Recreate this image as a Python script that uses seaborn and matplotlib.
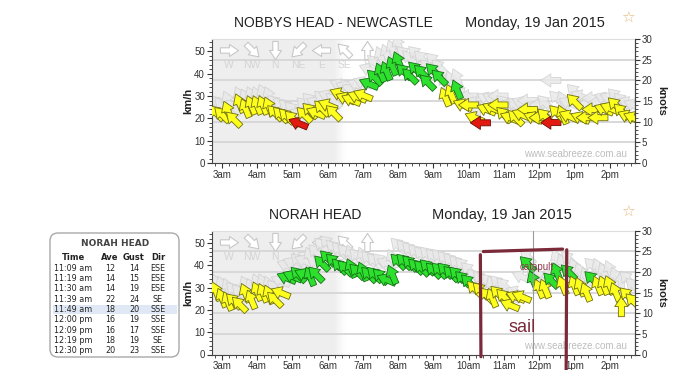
import numpy as np
import pandas as pd
import matplotlib
matplotlib.use("Agg")
import matplotlib.pyplot as plt
import seaborn as sns
from matplotlib.path import Path
from matplotlib.markers import MarkerStyle
from matplotlib.transforms import Affine2D
from matplotlib.patches import FancyBboxPatch, Rectangle
from matplotlib.ticker import MultipleLocator

sns.set_style("ticks")
plt.rcParams["font.family"] = ["Liberation Sans", "DejaVu Sans"]

# ---------------- data ----------------
obs_times = ["02:50", "03:00", "03:10", "03:20", "03:30", "03:40", "03:50", "04:00", "04:10", "04:20",
             "04:30", "04:40", "04:50", "05:00", "05:10", "05:20", "05:30", "05:40", "05:50", "06:00",
             "06:10", "06:20", "06:30", "06:40", "06:50", "07:00", "07:10", "07:20", "07:30", "07:40",
             "07:50", "08:00", "08:10", "08:20", "08:30", "08:40", "08:50", "09:00", "09:10", "09:20",
             "09:30", "09:40", "09:50", "10:00", "10:10", "10:20", "10:30", "10:40", "10:50", "11:00",
             "11:10", "11:20", "11:30", "11:40", "11:50", "12:00", "12:10", "12:20", "12:30", "12:40",
             "12:50", "13:00", "13:10", "13:20", "13:30", "13:40", "13:50", "14:00", "14:10", "14:20",
             "14:30", "14:40"]

nobbys_ave = [22.5, 21.7, 23.5, 19.6, 26.8, 24.6, 26.0, 26.0, 26.0, 25.4,
              22.5, 21.7, 21.0, 20.0, 17.8, 21.7, 23.5, 22.5, 24.6, 26.0,
              22.5, 31.0, 29.0, 28.3, 29.7, 30.4, 35.5, 38.4, 40.6, 41.3,
              43.5, 45.7, 41.0, 39.0, 42.0, 40.6, 36.2, 41.3, 38.4, 29.7,
              31.0, 33.0, 26.0, 26.0, 20.3, 18.0, 24.0, 24.6, 26.0, 21.7,
              20.3, 20.3, 21.7, 24.0, 20.3, 20.3, 21.0, 18.1, 22.5, 21.7,
              21.0, 27.5, 20.3, 20.3, 24.0, 20.3, 24.0, 24.6, 26.0, 23.2,
              21.0, 20.3]
nobbys_gust = [27, 26, 28, 25, 30, 29, 30, 30, 31, 30,
               27, 26, 25, 24, 22, 26, 28, 27, 29, 30,
               28, 35, 34, 33, 35, 36, 42, 45, 48, 49,
               51, 53, 49, 47, 49, 47, 43, 46, 43, 36,
               37, 38, 31, 30, 27, 24, 29, 29, 30, 27,
               26, 26, 27, 28, 25, 26, 27, 37, 29, 28,
               27, 32, 30, 26, 29, 27, 29, 29, 30, 28,
               27, 26]
nobbys_dir = ["SE", "SE", "SSE", "SE", "SSE", "SSE", "SSE", "SSE", "SSE", "SSE",
              "SE", "SE", "SE", "SE", "ESE", "SE", "SE", "ESE", "SE", "ESE",
              "SE", "ESE", "ESE", "ESE", "ESE", "ESE", "ESE", "SE", "SSE", "SSE",
              "SSE", "SSE", "SE", "SE", "SE", "SE", "SE", "SE", "SE", "SSE",
              "SSE", "SSE", "ESE", "E", "ESE", "E", "ESE", "ESE", "E", "SE",
              "ESE", "SE", "ESE", "E", "ESE", "E", "SE", "E", "SE", "SSE",
              "ESE", "SE", "ESE", "E", "E", "E", "ESE", "ESE", "SE", "SE",
              "ESE", "ESE"]

norah_ave = [28.4, 25.5, 24.0, 24.0, 22.5, 27.7, 24.7, 28.4, 27.7, 27.0,
             24.7, 27.7, 34.4, 35.1, 35.9, 35.9, 35.1, 36.0, 41.0, 43.3,
             41.8, 39.6, 38.8, 38.8, 37.3, 37.3, 35.9, 35.9, 35.1, 33.6,
             35.9, 41.8, 41.8, 41.0, 39.6, 38.8, 39.3, 37.8, 37.8, 37.8,
             36.3, 36.0, 34.0, 32.5, 29.6, 28.9, 26.7, 25.5, 27.4, 26.0,
             22.2, 25.9, 25.9, 40.7, 33.3, 29.6, 29.6, 33.3, 37.0, 31.1,
             37.0, 31.0, 30.4, 28.1, 34.0, 31.0, 31.1, 31.2, 28.1, 21.5,
             26.7, 24.0]
norah_gust = [32, 31, 30, 29, 28, 31, 30, 32, 32, 31,
              30, 33, 40, 41, 42, 42, 44, 46, 49, 50,
              48, 47, 46, 45, 44, 44, 43, 42, 42, 41,
              43, 49, 48, 47, 46, 45, 45, 44, 44, 43,
              42, 41, 40, 38, 35, 34, 33, 31, 32, 31,
              26, 28, 35, 44, 37, 35, 31, 35, 43, 41,
              43, 39, 37, 35, 40, 39, 37, 38, 35, 33,
              34, 31]
norah_dir = ["SSE", "SSE", "SSE", "SE", "SE", "SSE", "SSE", "SSE", "SSE", "SSE",
             "SE", "ESE", "ESE", "ESE", "SE", "ESE", "SSE", "SE", "SE", "SE",
             "SE", "SE", "SE", "SSE", "SE", "SSE", "SE", "SE", "SE", "ESE",
             "SSE", "SE", "SE", "SE", "SE", "SE", "SE", "SE", "SE", "SE",
             "SE", "SE", "SE", "SE", "SE", "SE", "SE", "SSE", "SE", "SE",
             "ESE", "ESE", "ESE", "SE", "SSE", "SSE", "SSE", "SE", "SSE", "SSE",
             "SE", "SSE", "SSE", "SSE", "SE", "SSE", "SSE", "SSE", "SSE", "S",
             "SE", "SE"]

hour_ticks = [3, 4, 5, 6, 7, 8, 9, 10, 11, 12, 13, 14]
hour_labels = ["3am", "4am", "5am", "6am", "7am", "8am", "9am", "10am", "11am", "12pm", "1pm", "2pm"]
kmh_ticks = [0, 10, 20, 30, 40, 50]
knot_ticks = [0, 5, 10, 15, 20, 25, 30]
grid_knots = [5, 10, 15, 20, 25]
legend_dirs = ["W", "NW", "N", "NE", "E", "SE", "S"]

tbl_title = "NORAH HEAD"
tbl_header = ["Time", "Ave", "Gust", "Dir"]
tbl_times = ["11:09 am", "11:19 am", "11:30 am", "11:39 am", "11:49 am",
             "12:00 pm", "12:09 pm", "12:19 pm", "12:30 pm"]
tbl_ave = [12, 14, 14, 22, 18, 16, 16, 18, 20]
tbl_gust = [14, 15, 19, 24, 20, 19, 17, 19, 23]
tbl_dir = ["ESE", "ESE", "ESE", "SE", "SSE", "SSE", "SSE", "SE", "SSE"]
tbl_highlight = "11:49 am"

cursor_time = "11:49"
night_end = "06:12"
sail_left = (["10:20", "10:21"], [44.8, -1.0])
sail_top = (["10:25", "12:40"], [46.2, 47.3])
sail_right = (["12:47", "12:46"], [47.0, -7.0])
sail_label = ("11:31", 12.3, "sail")
catapult_label = ("11:56", 39.3, "catapult")

KMH_PER_KNOT = 1.852
bearing = {"N": 0, "NNE": 22.5, "NE": 45, "ENE": 67.5, "E": 90, "ESE": 112.5, "SE": 135,
           "SSE": 157.5, "S": 180, "SSW": 202.5, "SW": 225, "WSW": 247.5, "W": 270,
           "WNW": 292.5, "NW": 315, "NNW": 337.5}
palette = {"light": "#e31a10", "moderate": "#ffff1e", "strong": "#2ee02e"}
edge_pal = {"light": "#6e0a05", "moderate": "#6e6e10", "strong": "#156e15"}


def to_hours(ts):
    ts = pd.Series(ts)
    return (pd.to_timedelta(ts + ":00").dt.total_seconds() / 3600.0).to_numpy()


arrow_path = Path(
    [(-0.5, -0.15), (0.0, -0.15), (0.0, -0.33), (0.5, 0.0), (0.0, 0.33), (0.0, 0.15),
     (-0.5, 0.15), (-0.5, -0.15)],
    [Path.MOVETO] + [Path.LINETO] * 6 + [Path.CLOSEPOLY])


def arrow_marker(d):
    return MarkerStyle(arrow_path, transform=Affine2D().rotate_deg(-90 - bearing[d]))


def band(v):
    kn = v / KMH_PER_KNOT
    if kn < 10:
        return "light"
    if kn < 17:
        return "moderate"
    return "strong"


fig = plt.figure(figsize=(7, 3.7), dpi=100)
fig.patch.set_facecolor("white")

ax_top = fig.add_axes([212 / 700, (370 - 163) / 370, 423 / 700, 124 / 370])
ax_bot = fig.add_axes([212 / 700, (370 - 354.5) / 370, 423 / 700, 123.8 / 370])


def draw_panel(ax, ave, gust, dirs):
    hrs = to_hours(obs_times)
    df = pd.DataFrame({"hour": hrs, "kmh": ave, "gust": gust, "dir": dirs})
    df["band"] = [band(v) for v in df["kmh"]]
    markers = {d: arrow_marker(d) for d in df["dir"].unique()}

    x0, x1 = 2.72, 14.72
    ax.set_xlim(x0, x1)
    ax.set_ylim(0, 30 * KMH_PER_KNOT)
    ax.set_facecolor("white")

    # night shading
    ne = to_hours([night_end])[0]
    ax.axvspan(x0, ne, color="#eeeeee", lw=0, zorder=0)
    fades = [0.88, 0.72, 0.56, 0.4, 0.26, 0.14, 0.05]
    for i, a in enumerate(fades):
        ax.axvspan(ne + i * 0.05, ne + (i + 1) * 0.05, color="#eeeeee", alpha=a, lw=0, zorder=0)

    for k in grid_knots:
        ax.axhline(k * KMH_PER_KNOT, color="#d6d6d6", lw=1.3, zorder=0.5)

    # compass legend
    for i, d in enumerate(legend_dirs):
        xf = 0.04 + i * 0.0545
        ax.scatter([xf], [0.91], transform=ax.transAxes, marker=arrow_marker(d), s=170,
                   facecolor="white", edgecolor="#c8c8c8", linewidth=0.8, zorder=1)
        ax.text(xf, 0.79, d, transform=ax.transAxes, ha="center", va="center",
                fontsize=7.5, color="#d4d4d4", zorder=1)

    # gust arrows (grey) then average arrows (coloured)
    sns.scatterplot(data=df, x="hour", y="gust", style="dir", markers=markers, s=210,
                    color="#e9e9e9", edgecolor="#cfcfcf", linewidth=0.6, alpha=0.85,
                    ax=ax, legend=False, zorder=2)
    sns.scatterplot(data=df, x="hour", y="kmh", style="dir", markers=markers, s=210,
                    hue="band", palette=palette,
                    edgecolor=[edge_pal[b] for b in df["band"]], linewidth=0.6, ax=ax,
                    legend=False, zorder=3)

    ax.set_xlabel("")
    ax.set_ylabel("km/h", fontsize=8, fontweight="bold", labelpad=1, color="#222222")
    ax.set_xticks(hour_ticks)
    ax.set_xticklabels(hour_labels)
    ax.xaxis.set_minor_locator(MultipleLocator(0.2))
    ax.set_yticks(kmh_ticks)
    ax.yaxis.set_minor_locator(MultipleLocator(2))
    ax.tick_params(axis="both", which="major", labelsize=7, length=3.5, width=0.8,
                   colors="#333333", pad=1.5)
    ax.tick_params(axis="both", which="minor", length=2, width=0.6, colors="#333333")
    for s in ["left", "bottom", "right"]:
        ax.spines[s].set_color("#444444")
        ax.spines[s].set_linewidth(0.8)
    ax.spines["top"].set_visible(True)
    ax.spines["top"].set_color("#dddddd")

    ax2 = ax.twinx()
    ax2.set_ylim(0, 30)
    ax2.set_yticks(knot_ticks)
    ax2.yaxis.set_minor_locator(MultipleLocator(1))
    ax2.tick_params(axis="y", which="major", labelsize=7, length=3.5, width=0.8,
                    colors="#333333", pad=1.5)
    ax2.tick_params(axis="y", which="minor", length=2, width=0.6, colors="#333333")
    ax2.set_ylabel("knots", fontsize=8, fontweight="bold", rotation=270, labelpad=10,
                   color="#222222")
    for s in ["left", "bottom", "right", "top"]:
        ax2.spines[s].set_visible(False)
    ax2.spines["right"].set_visible(True)
    ax2.spines["right"].set_color("#444444")
    ax2.spines["right"].set_linewidth(0.8)

    ax.text(0.98, 0.07, "www.seabreeze.com.au", transform=ax.transAxes, ha="right",
            va="center", fontsize=7, color="#bdbdbd", zorder=4)
    return ax2


draw_panel(ax_top, nobbys_ave, nobbys_gust, nobbys_dir)
draw_panel(ax_bot, norah_ave, norah_gust, norah_dir)

# titles
fig.text(333 / 700, 1 - 23 / 370, "NOBBYS HEAD - NEWCASTLE", ha="center", va="center",
         fontsize=10, color="#222222")
fig.text(535 / 700, 1 - 23 / 370, "Monday, 19 Jan 2015", ha="center", va="center",
         fontsize=10.5, color="#222222")
fig.text(315 / 700, 1 - 215 / 370, "NORAH HEAD", ha="center", va="center",
         fontsize=10, color="#222222")
fig.text(502 / 700, 1 - 215 / 370, "Monday, 19 Jan 2015", ha="center", va="center",
         fontsize=10.5, color="#222222")
for yy in [18, 212]:
    fig.text(628 / 700, 1 - yy / 370, "\u2606", ha="center", va="center", fontsize=11,
             color="#e3b878", family=["DejaVu Sans"])

# cursor line and hand drawn annotation on Norah Head
ax_bot.axvline(to_hours([cursor_time])[0], color="#9a9a9a", lw=0.8, zorder=4)
maroon = "#7b2a3a"
for xs, ys in [sail_left, sail_top, sail_right]:
    ax_bot.plot(to_hours(xs), ys, color=maroon, lw=2.3, solid_capstyle="round",
                clip_on=False, zorder=6)
ax_bot.text(to_hours([sail_label[0]])[0], sail_label[1], sail_label[2], ha="center",
            va="center", fontsize=13, color=maroon, zorder=6)
ax_bot.text(to_hours([catapult_label[0]])[0], catapult_label[1], catapult_label[2],
            ha="center", va="center", fontsize=7, color="#8b3a4a", zorder=6)

# info table
box = FancyBboxPatch((0.50, 0.13), 1.29, 1.24, boxstyle="round,pad=0,rounding_size=0.08",
                     transform=fig.dpi_scale_trans, facecolor="white", edgecolor="#a8a8a8",
                     linewidth=1.0, zorder=1)
fig.patches.append(box)
col_x = [73, 110, 134, 158]
tfont = dict(family=["DejaVu Sans"], color="#222222")
fig.text(115 / 700, 1 - 243.5 / 370, tbl_title, ha="center", va="center", fontsize=6.5,
         fontweight="bold", **dict(tfont, color="#444444"))
for cx, h in zip(col_x, tbl_header):
    fig.text(cx / 700, 1 - 257.7 / 370, h, ha="center", va="center", fontsize=6,
             fontweight="bold", **tfont)
for i, (t, a, g, d) in enumerate(zip(tbl_times, tbl_ave, tbl_gust, tbl_dir)):
    yc = 268.3 + i * 10.3
    if t == tbl_highlight:
        fig.patches.append(Rectangle((53 / 700, 1 - (yc + 4.8) / 370), 124 / 700, 9.6 / 370,
                                     transform=fig.transFigure, facecolor="#dfe8f4",
                                     edgecolor="none", zorder=1.5))
    for cx, val in zip(col_x, [t, str(a), str(g), d]):
        fig.text(cx / 700, 1 - yc / 370, val, ha="center", va="center", fontsize=5.8, **tfont)

fig.savefig("out.png", dpi=100)
